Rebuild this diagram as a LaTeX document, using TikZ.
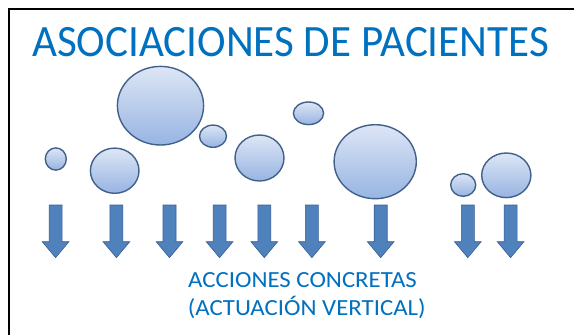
\documentclass[tikz,border=0pt]{standalone}
\usepackage{fontspec}
\setmainfont{Carlito}
\newfontfamily\titlefont[FakeStretch=0.961]{Carlito}
\newfontfamily\subfont[FakeStretch=1.075]{Carlito}
\definecolor{titleblue}{HTML}{0070C0}
\definecolor{bubtop}{HTML}{DDE6F5}
\definecolor{bubbot}{HTML}{97B4E2}
\definecolor{bubline}{HTML}{41618B}
\definecolor{arrfill}{HTML}{4F81BD}
\definecolor{arrline}{HTML}{3A5F8E}
\tikzset{
  bubble/.style={ellipse, draw=bubline, line width=1.4pt, top color=bubtop, bottom color=bubbot, inner sep=0pt, outer sep=0pt},
  arrowstyle/.style={fill=arrfill, draw=arrline, line width=0.6pt, line join=miter},
  darrow/.pic={\path[arrowstyle] (-6.5,0) -- (6.5,0) -- (6.5,36.7) -- (13.35,36.7) -- (0,52.7) -- (-13.35,36.7) -- (-6.5,36.7) -- cycle;},
  titletext/.style={text=titleblue, inner sep=0pt, font=\titlefont\fontsize{44.8}{54}\selectfont},
  subtext/.style={text=titleblue, inner sep=0pt, anchor=base west, font=\subfont\fontsize{23.1}{28}\selectfont}
}
\usetikzlibrary{shapes.geometric}
\begin{document}
\begin{tikzpicture}[x=1pt,y=-1pt]
\useasboundingbox (0,0) rectangle (574,335);
\fill[white] (0,0) rectangle (574,335);
\draw[line width=1.8pt, black] (580,9.2) -- (9.2,9.2) -- (9.2,340);
\node[titletext, anchor=base] (title) at (290.6,56.7) {ASOCIACIONES DE PACIENTES};
% bubbles
\node[bubble, minimum width=21, minimum height=22.2] (b1) at (55.8,159) {};
\node[bubble, minimum width=48.6, minimum height=45.2] (b2) at (114.7,170.7) {};
\node[bubble, minimum width=86.2, minimum height=78.6] (b3) at (160.5,105.7) {};
\node[bubble, minimum width=27, minimum height=22.2] (b4) at (213,136.2) {};
\node[bubble, minimum width=49, minimum height=46] (b5) at (259.5,158) {};
\node[bubble, minimum width=30.2, minimum height=22.6] (b6) at (308.5,113.3) {};
\node[bubble, minimum width=82.2, minimum height=74] (b7) at (375.2,161.7) {};
\node[bubble, minimum width=25, minimum height=22.6] (b8) at (463.2,185) {};
\node[bubble, minimum width=49.2, minimum height=44.6] (b9) at (506.3,175.3) {};
% arrows
\foreach \ax/\nm in {55.6/a1,116.4/a2,169.5/a3,219.6/a4,264.3/a5,311.9/a6,380.7/a7,467.8/a8,510.6/a9}
  \pic (\nm) at (\ax,205) {darrow};
\node[subtext] (sub1) at (188,287.3) {ACCIONES CONCRETAS};
\node[subtext] (sub2) at (187.7,315) {(ACTUACIÓN VERTICAL)};
\end{tikzpicture}
\end{document}
